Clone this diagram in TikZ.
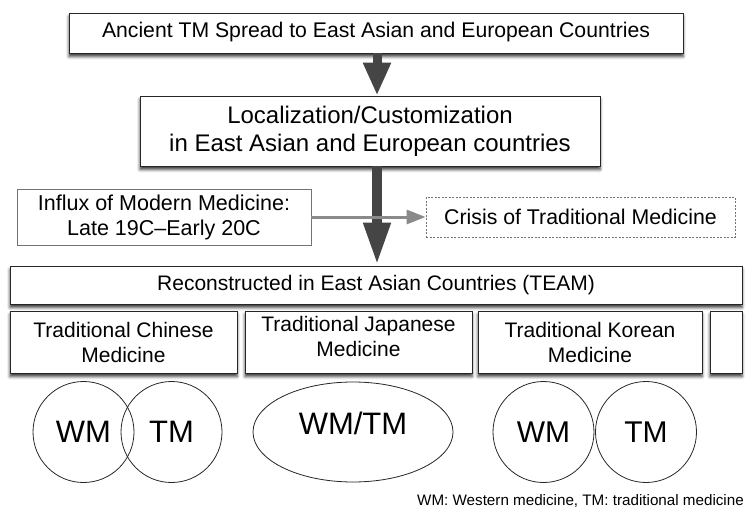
\documentclass[tikz,border=0pt]{standalone}
\usepackage{fontspec}
\setmainfont{Liberation Sans}
\usetikzlibrary{arrows.meta,shadows.blur,shapes.geometric}
\definecolor{fatgray}{HTML}{454545}
\definecolor{thingray}{HTML}{8A8A8A}
\tikzset{
  shadowbox/.style={draw=black!85, fill=white, line width=0.9pt, inner sep=0pt,
    align=center, anchor=center,
    blur shadow={shadow xshift=0pt, shadow yshift=-3.5pt, shadow blur radius=3pt, shadow opacity=80}},
  plainbox/.style={draw=black!55, fill=white, line width=0.8pt, inner sep=0pt, align=center},
  dashbox/.style={draw=black!55, line width=0.8pt, dash pattern=on 2pt off 1.5pt, inner sep=0pt, align=center},
  ring/.style={draw=black!85, line width=0.8pt, inner sep=0pt, text depth=0pt},
  fatarrow/.style={draw=fatgray, fill=fatgray, line width=9pt},
  grayarrow/.style={draw=thingray, line width=3pt, -{Triangle[width=14pt,length=19pt]}},
  fs/.style={font=\fontsize{#1}{#1}\selectfont},
  twoline/.style={font=\fontsize{21}{25}\selectfont}
}
\begin{document}
\begin{tikzpicture}[x=1pt,y=-1pt]
\useasboundingbox (0,0) rectangle (747,511);
\coordinate (ax) at (377,0);

\node[shadowbox, minimum width=614pt, minimum height=40pt, fs=21.2, text depth=6.5pt] (top) at (376,33)
  {Ancient TM Spread to East Asian and European Countries};
\node[shadowbox, minimum width=460pt, minimum height=70pt, font=\fontsize{24}{28}\selectfont] (loc) at (370,131)
  {Localization/Customization\\in East Asian and European countries};
\node[plainbox, minimum width=294pt, minimum height=56pt, font=\fontsize{21.5}{25}\selectfont] (influx) at (164,217)
  {Influx of Modern Medicine:\\Late 19C\textendash Early 20C};
\node[dashbox, minimum width=309pt, minimum height=40pt, fs=21.3] (crisis) at (580.5,217)
  {Crisis of Traditional Medicine};
\node[shadowbox, minimum width=732pt, minimum height=38pt, fs=21] (recon) at (376,285)
  {Reconstructed in East Asian Countries (TEAM)};
\node[shadowbox, minimum width=227pt, minimum height=62pt, twoline] (tcm) at (123.5,342)
  {Traditional Chinese\\Medicine};
\node[shadowbox, minimum width=227pt, minimum height=62pt, twoline] (tjm) at (358.5,342)
  {Traditional Japanese\\Medicine\\[-13pt]\mbox{}};
\node[shadowbox, minimum width=224pt, minimum height=62pt, twoline] (tkm) at (590,342)
  {Traditional Korean\\Medicine};
\node[shadowbox, minimum width=32pt, minimum height=62pt] (extra) at (726,342) {};

% fat arrows
\path[fatarrow, -{Triangle[width=26pt,length=33pt]}] (top.south -| ax) -- (loc.north -| ax);
\path[fatarrow, line width=10pt, -{Triangle[width=25pt,length=43pt]}] (loc.south -| ax) -- (recon.north -| ax);
% gray arrow
\draw[grayarrow] (influx.east) -- (crisis.west);

% circles
\node[ring, circle, minimum size=101pt, font=\fontsize{31}{31}\selectfont] (cwm) at (83.5,432) {WM};
\node[ring, circle, minimum size=101pt, font=\fontsize{31}{31}\selectfont] (ctm) at (171.5,432) {TM};
\node[ring, ellipse, minimum width=200pt, minimum height=100pt, font=\fontsize{31}{31}\selectfont, text depth=18pt] (jwt) at (353,432) {WM/TM};
\node[ring, circle, minimum size=101pt, font=\fontsize{30}{30}\selectfont] (kwm) at (543.5,432) {WM};
\node[ring, circle, minimum size=101pt, font=\fontsize{30}{30}\selectfont] (ktm) at (646,432) {TM};

\node[anchor=base east, inner sep=0pt, fs=15.2] (note) at (744,505)
  {WM: Western medicine, TM: traditional medicine};
\end{tikzpicture}
\end{document}
